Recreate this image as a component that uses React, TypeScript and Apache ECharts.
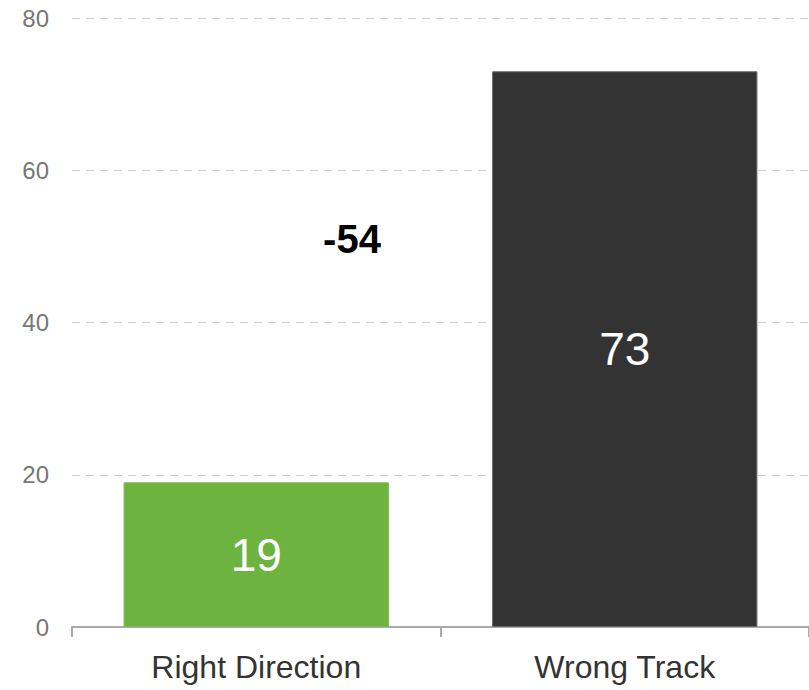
import React, { useEffect, useRef } from "react";
import * as echarts from "echarts";

const categories = ["Right Direction", "Wrong Track"];
const values = [19, 73];
const barColors = ["#6db33f", "#333333"];
const borderColors = ["#7bb84f", "#666666"];
const yTicks = { min: 0, max: 80, interval: 20 };

export default function App() {
  const ref = useRef<HTMLDivElement>(null);
  useEffect(() => {
    if (!ref.current) return;
    const chart = echarts.init(ref.current, undefined, { renderer: "svg" });
    const diff = values[0] - values[1];
    chart.setOption({
      animation: false,
      grid: { left: 72, right: -3, top: 18, bottom: 63 },
      xAxis: {
        type: "category",
        data: categories,
        axisLine: { lineStyle: { color: "#aaaaaa", width: 2 } },
        axisTick: { show: true, length: 10, lineStyle: { color: "#aaaaaa", width: 2 } },
        axisLabel: {
          color: "#333333",
          fontSize: 32,
          fontFamily: "Liberation Sans, Arial, sans-serif",
          margin: 24,
        },
      },
      yAxis: {
        type: "value",
        min: yTicks.min,
        max: yTicks.max,
        interval: yTicks.interval,
        axisLine: { show: false },
        axisTick: { show: false },
        splitLine: { lineStyle: { color: "#cccccc", type: [8, 6], width: 1 } },
        axisLabel: {
          color: "#777777",
          fontSize: 24,
          fontFamily: "Liberation Sans, Arial, sans-serif",
          margin: 23,
        },
      },
      series: [
        {
          type: "bar",
          barWidth: "72%",
          data: values.map((v, i) => ({
            value: v,
            itemStyle: { color: barColors[i], borderColor: borderColors[i], borderWidth: 1 },
          })),
          label: {
            show: true,
            position: "inside",
            color: "#ffffff",
            fontSize: 46,
            fontFamily: "Liberation Sans, Arial, sans-serif",
          },
        },
      ],
      graphic: [
        {
          type: "text",
          x: 352,
          y: 239,
          style: {
            text: String(diff),
            fill: "#000000",
            font: "bold 40px 'Liberation Sans', Arial, sans-serif",
            textAlign: "center",
            textVerticalAlign: "middle",
          },
        },
      ],
    });
    return () => chart.dispose();
  }, []);
  return (
    <div
      ref={ref}
      style={{ position: "absolute", left: 0, top: 0, width: 809, height: 690 }}
    />
  );
}
